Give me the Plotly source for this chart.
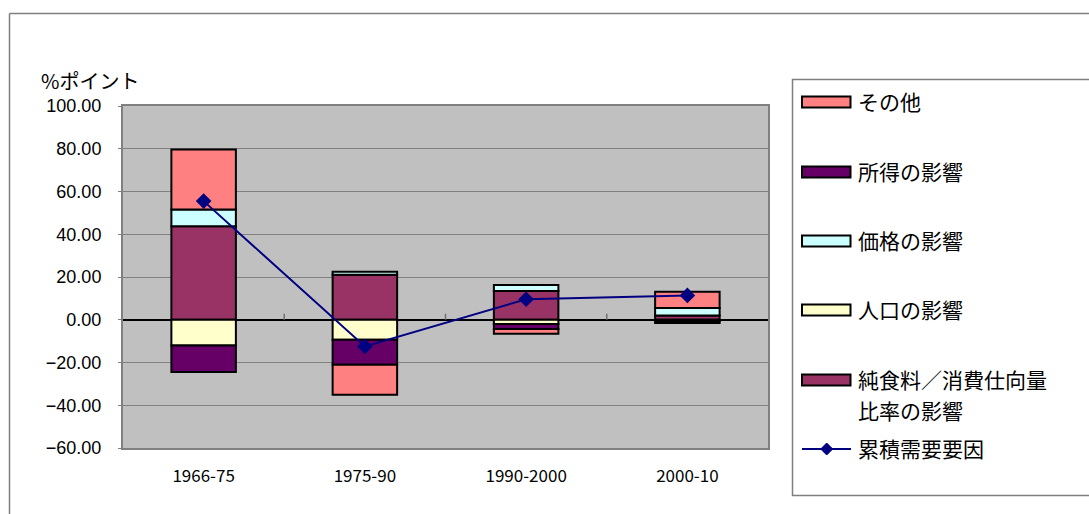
import plotly.graph_objects as go

# Periods on the category axis
periods = ["1966-75", "1975-90", "1990-2000", "2000-10"]

# Contribution of each factor (percentage points)
net_food_ratio = [43.8, 21.0, 13.5, 2.0]   # 純食料／消費仕向量比率の影響
population = [-12.0, -9.3, -2.0, -0.7]     # 人口の影響
price = [7.8, 1.5, 2.7, 3.5]               # 価格の影響
income = [-12.4, -11.8, -2.3, -0.8]        # 所得の影響
other = [28.0, -14.0, -2.2, 7.6]           # その他

# Cumulative demand factor
cumulative = [55.5, -12.5, 9.6, 11.4]      # 累積需要要因

series = [
    ("純食料／消費仕向量比率の影響", net_food_ratio, "#993366"),
    ("人口の影響", population, "#FFFFCC"),
    ("価格の影響", price, "#CCFFFF"),
    ("所得の影響", income, "#660066"),
    ("その他", other, "#FF8080"),
]

W, H = 1089, 514
PL, PR, PT, PB = 123, 768, 106, 448

JP = "Noto Sans CJK JP"
NUM = "Liberation Sans, Arial, sans-serif"

fig = go.Figure()
for name, vals, col in series:
    fig.add_trace(go.Bar(
        x=periods, y=vals, name=name, width=0.4,
        marker=dict(color=col, line=dict(color="black", width=2)),
        showlegend=False,
    ))

fig.add_trace(go.Scatter(
    x=periods, y=cumulative, name="累積需要要因", mode="lines+markers",
    line=dict(color="#000080", width=2),
    marker=dict(symbol="diamond", size=12, color="#000080"),
    showlegend=False,
))


def px(x):
    return (x - PL) / (PR - PL)


def py(y):
    return (PB - y) / (PB - PT)


shapes = []
annotations = []

# Outer chart frame
shapes.append(dict(type="line", xref="paper", yref="paper",
                   x0=px(9.5), x1=px(1095), y0=py(13.5), y1=py(13.5),
                   line=dict(color="#7f7f7f", width=1.5)))
shapes.append(dict(type="line", xref="paper", yref="paper",
                   x0=px(9.5), x1=px(9.5), y0=py(13.5), y1=py(520),
                   line=dict(color="#7f7f7f", width=1.5)))

# Category separator ticks on the zero line
for xb in (0.5, 1.5, 2.5):
    shapes.append(dict(type="line", xref="x", yref="y",
                       x0=xb, x1=xb, y0=0, y1=2.8,
                       line=dict(color="#707070", width=1.5)))

# Legend box
shapes.append(dict(type="rect", xref="paper", yref="paper",
                   x0=px(792.5), x1=px(1100), y0=py(79.5), y1=py(495.5),
                   line=dict(color="#7f7f7f", width=1.5), fillcolor="white",
                   layer="below"))


def legend_text(text, yc):
    annotations.append(dict(text=text, xref="paper", yref="paper",
                            x=px(856), y=py(yc), xanchor="left",
                            yanchor="middle", showarrow=False,
                            font=dict(family=JP, size=21, color="black")))


legend_items = [
    (["その他"], "#FF8080", 102),
    (["所得の影響"], "#660066", 172),
    (["価格の影響"], "#CCFFFF", 241),
    (["人口の影響"], "#FFFFCC", 310),
    (["純食料／消費仕向量", "比率の影響"], "#993366", 380),
]
for lines, col, yc in legend_items:
    shapes.append(dict(type="rect", xref="paper", yref="paper",
                       x0=px(802), x1=px(850.5), y0=py(yc - 5.5), y1=py(yc + 5.5),
                       fillcolor=col, line=dict(color="black", width=2)))
    for i, t in enumerate(lines):
        legend_text(t, yc - 1 + 30.5 * i)

# Line entry
yl = 449
shapes.append(dict(type="line", xref="paper", yref="paper",
                   x0=px(802), x1=px(851), y0=py(yl), y1=py(yl),
                   line=dict(color="#000080", width=2)))
cx, r = 826.7, 6
shapes.append(dict(type="path", xref="paper", yref="paper",
                   path=f"M {px(cx - r)},{py(yl)} L {px(cx)},{py(yl - r)} "
                        f"L {px(cx + r)},{py(yl)} L {px(cx)},{py(yl + r)} Z",
                   fillcolor="#000080", line=dict(color="#000080", width=1)))
legend_text("累積需要要因", yl - 1)

# Axis unit
annotations.append(dict(text="%ポイント", xref="paper", yref="paper",
                        x=px(39), y=py(81), xanchor="left", yanchor="middle",
                        showarrow=False,
                        font=dict(family=JP, size=20, color="black")))

fig.update_layout(
    width=W, height=H,
    margin=dict(l=PL, r=W - PR, t=PT, b=H - PB, pad=0),
    paper_bgcolor="white",
    plot_bgcolor="#C0C0C0",
    barmode="relative",
    bargap=0.6,
    shapes=shapes,
    annotations=annotations,
    xaxis=dict(
        type="category", showgrid=False, showline=True, mirror=True,
        linecolor="#808080", linewidth=2, ticks="", ticklabelstandoff=12,
        tickfont=dict(family=JP, size=17, color="black"),
    ),
    yaxis=dict(
        range=[-60, 100], dtick=20, tickformat=".2f",
        showgrid=True, gridcolor="#808080", gridwidth=1,
        zeroline=True, zerolinecolor="black", zerolinewidth=1.5,
        showline=True, mirror=True, linecolor="#808080", linewidth=2,
        ticks="outside", ticklen=3, tickcolor="#808080",
        ticklabelstandoff=13,
        tickfont=dict(family=NUM, size=18, color="black"),
    ),
)

fig.write_html("out.html")
